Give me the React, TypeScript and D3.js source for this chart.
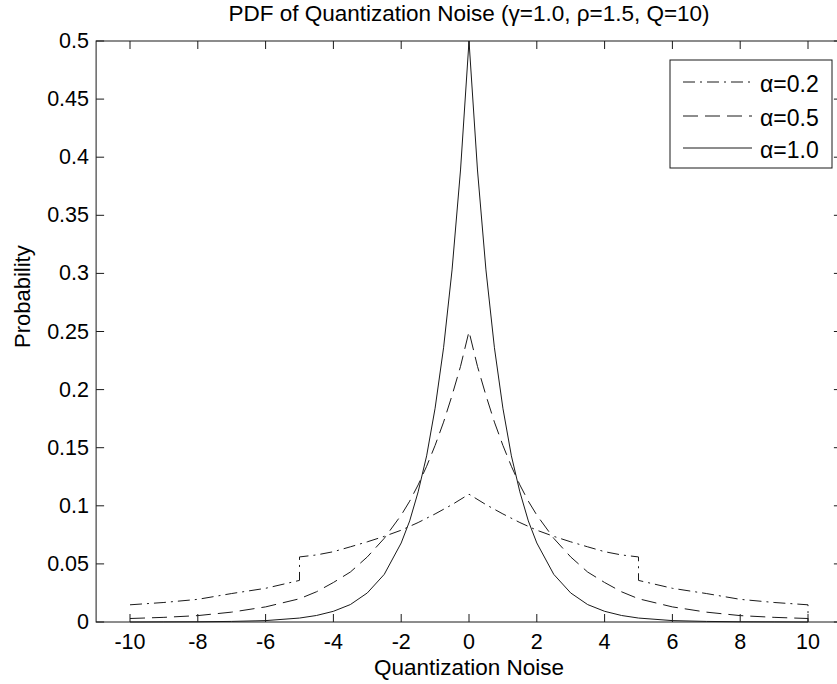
import React from "react";
import * as d3 from "d3";

// ---- data ----
const xGrid = [-10, -9, -8, -7, -6, -5, -4.5, -4, -3.5, -3, -2.5, -2, -1.75, -1.5, -1.25, -1, -0.75, -0.5, -0.25, 0,
  0.25, 0.5, 0.75, 1, 1.25, 1.5, 1.75, 2, 2.5, 3, 3.5, 4, 4.5, 5, 6, 7, 8, 9, 10];
const alpha10 = [0.0, 0.0001, 0.0002, 0.0005, 0.0012, 0.0034, 0.0056, 0.0092, 0.015, 0.025, 0.041, 0.068, 0.087, 0.112, 0.143, 0.184, 0.236, 0.303, 0.389, 0.5,
  0.389, 0.303, 0.236, 0.184, 0.143, 0.112, 0.087, 0.068, 0.041, 0.025, 0.015, 0.0092, 0.0056, 0.0034, 0.0012, 0.0005, 0.0002, 0.0001, 0.0];
const alpha05 = [0.003, 0.004, 0.0055, 0.0085, 0.013, 0.02, 0.026, 0.034, 0.043, 0.056, 0.072, 0.092, 0.104, 0.118, 0.134, 0.152, 0.172, 0.195, 0.22, 0.25,
  0.22, 0.195, 0.172, 0.152, 0.134, 0.118, 0.104, 0.092, 0.072, 0.056, 0.043, 0.034, 0.026, 0.02, 0.013, 0.0085, 0.0055, 0.004, 0.003];
const xGridA02 = [-10, -9, -8, -7, -6, -5, -5, -4.5, -4, -3.5, -3, -2.5, -2, -1.5, -1, -0.5, 0,
  0.5, 1, 1.5, 2, 2.5, 3, 3.5, 4, 4.5, 5, 5, 6, 7, 8, 9, 10, 10];
const alpha02 = [0.0148, 0.0168, 0.0195, 0.0245, 0.029, 0.0358, 0.056, 0.0577, 0.0605, 0.0647, 0.069, 0.0737, 0.079, 0.0856, 0.093, 0.101, 0.11,
  0.101, 0.093, 0.0856, 0.079, 0.0737, 0.069, 0.0647, 0.0605, 0.0577, 0.056, 0.0358, 0.029, 0.0245, 0.0195, 0.0168, 0.0148, 0];

const xTicks = [-10, -8, -6, -4, -2, 0, 2, 4, 6, 8, 10];
const yTicks = [0, 0.05, 0.1, 0.15, 0.2, 0.25, 0.3, 0.35, 0.4, 0.45, 0.5];
const yTickLabels = ["0", "0.05", "0.1", "0.15", "0.2", "0.25", "0.3", "0.35", "0.4", "0.45", "0.5"];
const legendLabels = ["\u03b1=0.2", "\u03b1=0.5", "\u03b1=1.0"];
const titleText = "PDF of Quantization Noise (\u03b3=1.0, \u03c1=1.5, Q=10)";

const W = 837, H = 684;
const FONT = "'Liberation Sans', Arial, Helvetica, sans-serif";

export default function App() {
  const x = d3.scaleLinear().domain([-11, 11]).range([96.1, 841.9]);
  const y = d3.scaleLinear().domain([0, 0.5]).range([622, 41]);
  const [x0, x1] = x.range();
  const [yb, yt] = y.range();
  const line = d3.line<[number, number]>().x(d => x(d[0])).y(d => y(d[1]));

  const series = [
    { xs: xGridA02, ys: alpha02, dash: "12,5,2,5" },
    { xs: xGrid, ys: alpha05, dash: "15,7" },
    { xs: xGrid, ys: alpha10, dash: "none" },
  ];
  const tl = 8;
  const stroke = "#1a1a1a";

  const lg = { x: 670, y: 60, w: 162, h: 108 };
  const lgRows = [82, 116, 148];

  return (
    <svg width={W} height={H} style={{ position: "absolute", left: 0, top: 0, background: "#fff" }} fontFamily={FONT}>
      <rect x={0} y={0} width={W} height={H} fill="#fff" />
      {/* axes box */}
      <rect x={x0} y={yt} width={x1 - x0} height={yb - yt} fill="none" stroke={stroke} strokeWidth={1} />
      {xTicks.map(t => (
        <g key={"xt" + t}>
          <line x1={x(t)} x2={x(t)} y1={yb} y2={yb - tl} stroke={stroke} />
          <line x1={x(t)} x2={x(t)} y1={yt} y2={yt + tl} stroke={stroke} />
          <text x={x(t)} y={642} textAnchor="middle" dominantBaseline="central" fontSize={21.5} fill="#000">{t < 0 ? "-" + Math.abs(t) : String(t)}</text>
        </g>
      ))}
      {yTicks.map((t, i) => (
        <g key={"yt" + t}>
          <line x1={x0} x2={x0 + tl} y1={y(t)} y2={y(t)} stroke={stroke} />
          <line x1={x1} x2={x1 - tl} y1={y(t)} y2={y(t)} stroke={stroke} />
          <text x={89} y={y(t)} textAnchor="end" dominantBaseline="central" fontSize={21.5} fill="#000">{yTickLabels[i]}</text>
        </g>
      ))}
      {/* curves */}
      {series.map((s, i) => (
        <path key={"s" + i} d={line(s.xs.map((v, j) => [v, s.ys[j]] as [number, number])) || ""}
          fill="none" stroke={stroke} strokeWidth={1} strokeDasharray={s.dash} />
      ))}
      {/* legend */}
      <rect x={lg.x} y={lg.y} width={lg.w} height={lg.h} fill="#fff" stroke={stroke} strokeWidth={1} />
      {series.map((s, i) => (
        <g key={"lg" + i}>
          <line x1={683} x2={752} y1={lgRows[i]} y2={lgRows[i]} stroke={stroke} strokeWidth={1} strokeDasharray={s.dash} />
          <text x={760} y={lgRows[i] + 2} dominantBaseline="central" fontSize={23} fill="#000">{legendLabels[i]}</text>
        </g>
      ))}
      {/* labels */}
      <text x={469} y={13} textAnchor="middle" dominantBaseline="central" fontSize={22.5} fill="#000">{titleText}</text>
      <text x={469} y={667} textAnchor="middle" dominantBaseline="central" fontSize={22.5} fill="#000">Quantization Noise</text>
      <text transform={`translate(22,${y(0.28)}) rotate(-90)`} textAnchor="middle" dominantBaseline="central" fontSize={22} fill="#000">Probability</text>
    </svg>
  );
}
